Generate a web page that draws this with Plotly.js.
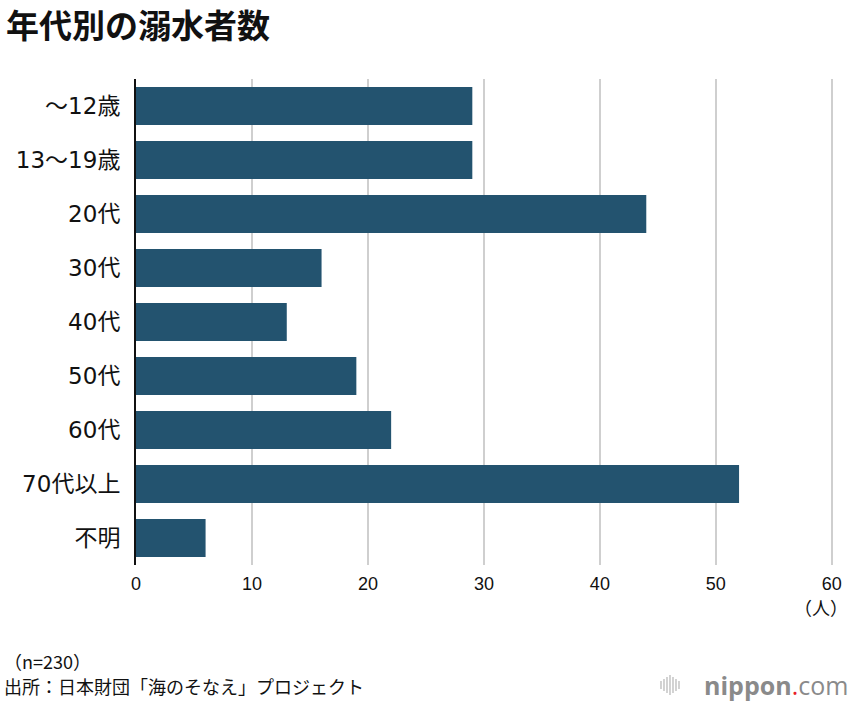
<!DOCTYPE html>
<html>
<head>
<meta charset="utf-8">
<script src="https://cdn.plot.ly/plotly-3.0.1.min.js"></script>
<style>html,body{margin:0;padding:0;background:#fff;}#chart{width:852px;height:702px;}</style>
</head>
<body>
<div id="chart"></div>
<script>
const categories = ["～12歳", "13～19歳", "20代", "30代", "40代", "50代", "60代", "70代以上", "不明"];
const values = [29, 29, 44, 16, 13, 19, 22, 52, 6];
const xTicks = [0, 10, 20, 30, 40, 50, 60];
const titleText = "年代別の溺水者数";
const unitText = "（人）";
const noteText = "（n=230）";
const sourceText = "出所：日本財団「海のそなえ」プロジェクト";

const FONT = '"Noto Sans CJK JP", "Noto Sans", sans-serif';
const LABFONT = '"DejaVu Sans", "Noto Sans CJK JP", sans-serif';
const W = 852, H = 702, ML = 136, MR = 19, MT = 79, MB = 137;
const PW = W - ML - MR, PH = H - MT - MB;
const px = v => (v - ML) / PW;   // container x -> paper
const py = v => (H - MB - v) / PH; // container y -> paper

const trace = {
  type: 'bar', orientation: 'h',
  x: values, y: categories,
  marker: {color: '#23536f'},
  width: 0.7,
  hoverinfo: 'skip'
};

const shapes = [];
// nippon.com logo icon: small vertical bars
const iconX = 661, iconHeights = [8, 12, 16, 20, 16, 12, 8];
iconHeights.forEach((h, i) => {
  const x = iconX + i * 3;
  shapes.push({type: 'line', xref: 'paper', yref: 'paper',
    x0: px(x), x1: px(x), y0: py(685 - h / 2), y1: py(685 + h / 2),
    line: {color: '#b5b5b5', width: 1.2}});
});

const layout = {
  width: W, height: H,
  margin: {l: ML, r: MR, t: MT, b: MB},
  paper_bgcolor: '#fff', plot_bgcolor: '#fff',
  font: {family: FONT, color: '#111'},
  showlegend: false,
  bargap: 0.3,
  xaxis: {
    range: [0, 60.1], tickvals: xTicks, ticktext: xTicks.map(String),
    showgrid: true, gridcolor: '#cfcfcf', gridwidth: 2,
    zeroline: false, showline: false, ticks: '',
    ticklabelstandoff: 6,
    tickfont: {size: 18, color: '#111', family: '"Liberation Sans", Arial, sans-serif'},
    fixedrange: true
  },
  yaxis: {
    autorange: 'reversed', showgrid: false, zeroline: false,
    showline: true, linecolor: '#111', linewidth: 2,
    ticks: '', ticklabelstandoff: 9,
    tickfont: {size: 23, color: '#111', family: LABFONT},
    fixedrange: true
  },
  shapes: shapes,
  annotations: [
    {text: '<b>' + titleText + '</b>', xref: 'paper', yref: 'paper', x: px(4), y: py(24),
      xanchor: 'left', yanchor: 'middle', showarrow: false,
      font: {size: 33, color: '#111', family: FONT}},
    {text: unitText, xref: 'paper', yref: 'paper', x: px(850), y: py(607), xanchor: 'right', yanchor: 'middle',
      showarrow: false, font: {size: 18, color: '#111', family: FONT}},
    {text: noteText, xref: 'paper', yref: 'paper', x: px(2), y: py(661), xanchor: 'left', yanchor: 'middle',
      showarrow: false, font: {size: 18, color: '#111', family: FONT}},
    {text: sourceText, xref: 'paper', yref: 'paper', x: px(2), y: py(686), xanchor: 'left', yanchor: 'middle',
      showarrow: false, font: {size: 18, color: '#111', family: FONT}},
    {text: '<b>nippon</b><span style="color:#e8202a">.</span>com', xref: 'paper', yref: 'paper',
      x: px(850), y: py(685), xanchor: 'right', yanchor: 'middle',
      showarrow: false, font: {size: 25, color: '#8a8a8a', family: '"Open Sans", "Noto Sans", sans-serif'}}
  ]
};

Plotly.newPlot('chart', [trace], layout, {displayModeBar: false, staticPlot: true});
</script>
</body>
</html>
